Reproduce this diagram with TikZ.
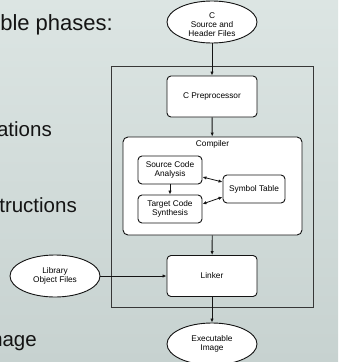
\documentclass[tikz,border=0pt]{standalone}
\usepackage{fontspec}
\setmainfont{Liberation Sans}
\usetikzlibrary{shapes.geometric,arrows.meta,calc}
\definecolor{bgtop}{HTML}{DCE5E3}
\definecolor{bgbot}{HTML}{C7D2D0}
\definecolor{ink}{HTML}{141414}
\begin{document}
\begin{tikzpicture}[x=1pt,y=-1pt,
  box/.style={draw=ink, fill=white, rounded corners=4pt, line width=0.9pt,
    minimum width=90pt, minimum height=41pt, inner sep=1pt,
    font=\fontsize{8.3}{9.3}\selectfont, align=center},
  oval/.style={ellipse, draw=ink, fill=white, line width=0.9pt,
    minimum width=90pt, minimum height=42pt, inner sep=0pt,
    font=\fontsize{8.3}{9.3}\selectfont, align=center},
  lbl/.style={font=\fontsize{8.3}{9.3}\selectfont, inner sep=0pt, align=center},
  arr/.style={-{Latex[length=4pt,width=3.4pt]}, line width=0.9pt, draw=ink},
  darr/.style={{Latex[length=4pt,width=3.4pt]}-{Latex[length=4pt,width=3.4pt]}, line width=0.8pt, draw=ink},
  big/.style={font=\fontsize{20.5}{24}\selectfont, text=ink, anchor=base east, inner sep=0pt}]
\shade[top color=bgtop, bottom color=bgbot] (0,0) rectangle (338,362);
\useasboundingbox (0,0) rectangle (338,362);
\clip (0,0) rectangle (338,362);
% slide text fragments
\node[big, font=\fontsize{22}{26}\selectfont] (t1) at (113,30) {ble phases:};
\node[big] (t2) at (52,136) {ations};
\node[big] (t3) at (77,212) {tructions};
\node[big] (t4) at (37,346) {mage};
% frame
\node[draw=ink!85, line width=0.9pt, minimum width=202pt, minimum height=241pt, inner sep=0pt] (frame) at (212,186.5) {};
% nodes
\node[oval] (src) at (212,22) {};
\node[lbl] (srctxt) at (212,24.5) {C\\Source and\\Header Files};
\node[box] (pre) at (212,96.5) {C Preprocessor};
\node[box, rounded corners=5pt, minimum width=179pt, minimum height=98pt] (comp) at (212.5,186) {};
\node[lbl] (complbl) at (212.5,144.5) {Compiler};
\node[box, minimum width=64pt, minimum height=28pt] (sca) at (170,170) {Source Code\\Analysis};
\node[box, minimum width=64pt, minimum height=28pt] (tcs) at (170,209) {Target Code\\Synthesis};
\node[box, minimum width=62pt, minimum height=28pt] (st) at (254,189) {Symbol Table};
\node[box] (link) at (212,276) {Linker};
\node[oval] (lib) at (55,276) {Library\\Object Files};
\node[oval] (exe) at (212,344) {Executable\\Image};
% connectors
\draw[arr] (src) -- (pre);
\draw[arr] (pre) -- (comp);
\draw[arr] (comp) -- (link);
\draw[arr] (link) -- (exe);
\draw[arr] (lib) -- (link);
\draw[arr] (sca) -- (tcs);
\draw[darr] ($(sca.east)+(0,7)$) -- ($(st.west)+(0,-7)$);
\draw[darr] ($(tcs.east)+(0,-5)$) -- ($(st.west)+(0,8)$);
\end{tikzpicture}
\end{document}
